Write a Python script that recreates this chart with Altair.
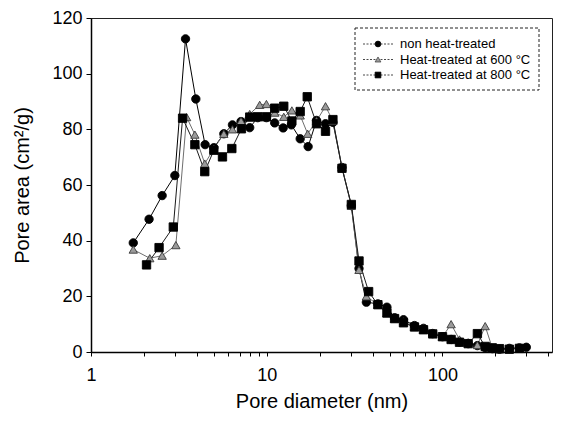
import altair as alt
import pandas as pd

series_names = ["non heat-treated", "Heat-treated at 600 °C", "Heat-treated at 800 °C"]

# non heat-treated (circles)
d_non = [1.74, 2.14, 2.54, 3.0, 3.45, 3.95, 4.46, 5.0, 5.7, 6.38, 7.14, 8.0, 8.89, 9.96,
         11.1, 12.4, 13.8, 15.5, 17.2, 19.2, 21.6, 23.8, 26.8, 30.3, 33.5, 36.9, 42.9,
         48.3, 53.4, 60, 69.3, 78, 88, 100, 112, 125, 140, 158, 175, 192, 211, 240, 274, 300]
a_non = [39.2, 47.7, 56.2, 63.4, 112.5, 90.9, 74.5, 73.4, 78.4, 81.6, 82.8, 80.6, 84.2, 84.2,
         82.3, 80.5, 81.6, 76.6, 73.8, 83.2, 82.0, 82.5, 66.3, 52.6, 30.0, 17.9, 17.3,
         16.1, 12.3, 11.6, 9.5, 8.5, 6.6, 5.5, 4.5, 3.6, 3.0, 2.3, 1.5, 1.2, 1.0, 1.3, 1.5, 1.7]

# heat-treated at 600 C (triangles)
d_600 = [1.74, 2.16, 2.54, 3.04, 3.5, 3.9, 4.44, 5.0, 5.7, 6.38, 7.14, 8.0, 9.12, 9.96,
         11.1, 12.5, 13.9, 15.5, 17.1, 19.2, 21.6, 23.8, 26.8, 30.3, 33.5, 36.9, 42.9,
         48.3, 53.4, 60, 69.3, 78, 88, 100, 112, 125, 140, 158, 175, 192, 211, 240, 274]
a_600 = [36.8, 33.7, 34.6, 38.4, 84.4, 78.1, 67.7, 73.0, 78.4, 80.0, 83.0, 85.5, 88.8, 89.1,
         86.0, 84.5, 86.8, 85.0, 78.4, 83.0, 88.3, 83.0, 66.5, 52.5, 29.5, 20.0, 17.0,
         14.0, 12.0, 11.0, 9.0, 8.0, 7.0, 5.5, 10.0, 4.5, 3.5, 2.5, 9.3, 1.5, 1.0, 1.2, 1.4]

# heat-treated at 800 C (squares)
d_800 = [2.07, 2.44, 2.94, 3.32, 3.9, 4.44, 5.0, 5.6, 6.33, 7.18, 8.0, 8.89, 9.96, 11.1,
         12.5, 13.9, 15.5, 17.0, 19.2, 21.6, 23.8, 26.8, 30.3, 33.5, 38, 42.9, 48.3,
         53.4, 60, 69.3, 78, 88, 100, 112, 125, 140, 158, 175, 192, 211, 240, 274]
a_800 = [31.3, 37.5, 44.9, 84.0, 74.5, 64.8, 72.5, 70.1, 73.1, 80.2, 84.4, 84.5, 84.5, 87.6,
         88.3, 83.0, 86.4, 91.7, 82.0, 79.3, 83.5, 66.0, 53.0, 32.7, 21.7, 17.0, 14.0,
         12.0, 10.5, 9.0, 8.0, 6.5, 5.5, 4.5, 3.5, 3.0, 6.6, 2.0, 1.5, 1.2, 1.0, 1.3]

x_ticks = [1, 2, 3, 4, 5, 6, 7, 8, 9, 10, 20, 30, 40, 50, 60, 70, 80, 90, 100, 200, 300, 400]
y_ticks = [0, 20, 40, 60, 80, 100, 120]

rows = []
for name, xs, ys in zip(series_names, [d_non, d_600, d_800], [a_non, a_600, a_800]):
    for i, (xv, yv) in enumerate(zip(xs, ys)):
        rows.append({"series": name, "diameter": xv, "area": yv, "idx": i})
df = pd.DataFrame(rows)
legend_df = pd.DataFrame({"series": series_names, "row": [0, 1, 2]})

FONT = "Liberation Sans"

shape_scale = alt.Scale(domain=series_names, range=["circle", "triangle-up", "square"])
fill_scale = alt.Scale(domain=series_names, range=["#000000", "#9a9a9a", "#000000"])
stroke_scale = alt.Scale(domain=series_names, range=["#000000", "#3a3a3a", "#000000"])

x_enc = alt.X(
    "diameter:Q",
    scale=alt.Scale(type="log", domain=[1, 420], nice=False),
    axis=alt.Axis(
        values=x_ticks,
        format="~g",
        labelExpr="(datum.value == 1 || datum.value == 10 || datum.value == 100) ? datum.label : ''",
        tickSize=4, labelPadding=10, grid=False, labelFlush=False,
        titlePadding=7,
    ),
    title="Pore diameter (nm)",
)
y_enc = alt.Y(
    "area:Q",
    scale=alt.Scale(domain=[0, 120], nice=False),
    axis=alt.Axis(values=y_ticks, tickSize=5, labelPadding=4, grid=False, titlePadding=19),
    title="Pore area (cm²/g)",
)

lines = alt.Chart(df).mark_line(strokeWidth=1).encode(
    x=x_enc, y=y_enc,
    color=alt.Color("series:N", scale=alt.Scale(domain=series_names, range=["#000000", "#6e6e6e", "#1a1a1a"]), legend=None),
    order="idx:Q",
)

points = alt.Chart(df).mark_point(filled=True, size=70, strokeWidth=0.9, opacity=1).encode(
    x=x_enc, y=y_enc,
    shape=alt.Shape("series:N", scale=shape_scale, legend=None),
    fill=alt.Fill("series:N", scale=fill_scale, legend=None),
    stroke=alt.Stroke("series:N", scale=stroke_scale, legend=None),
)

# hand-built legend (box, dotted line, marker, label per entry)
leg_base = alt.Chart(legend_df).transform_calculate(py="26 + datum.row * 15.5")
leg_y = alt.Y("py:Q", scale=None)

leg_box = alt.Chart(legend_df.head(1)).mark_rect(
    fill="white", stroke="#222222", strokeWidth=1, strokeDash=[3, 2]
).encode(x=alt.value(264), x2=alt.value(448), y=alt.value(10), y2=alt.value(72))

leg_rules = leg_base.mark_rule(strokeWidth=0.9, strokeDash=[2, 1.5], color="#333333").encode(
    x=alt.value(272), x2=alt.value(302), y=leg_y
)
leg_points = leg_base.mark_point(filled=True, size=34, strokeWidth=0.7, opacity=1).encode(
    x=alt.value(287), y=leg_y,
    shape=alt.Shape("series:N", scale=shape_scale, legend=None),
    fill=alt.Fill("series:N", scale=fill_scale, legend=None),
    stroke=alt.Stroke("series:N", scale=stroke_scale, legend=None),
)
leg_text = leg_base.mark_text(
    align="left", baseline="middle", font=FONT, fontSize=13, color="black"
).encode(x=alt.value(309), y=leg_y, text="series:N")

chart = (
    alt.layer(lines, points, leg_box, leg_rules, leg_points, leg_text)
    .properties(
        width=461, height=334,
        autosize=alt.AutoSizeParams(type="none"),
        padding={"left": 83, "top": 10, "right": 1, "bottom": 62},
    )
    .configure_view(stroke="#222222", strokeWidth=1)
    .configure_axis(
        labelFont=FONT, titleFont=FONT, labelFontSize=18, titleFontSize=20,
        titleFontWeight="normal", labelColor="black", titleColor="black",
        domainColor="black", domainWidth=1.5, tickColor="black", tickWidth=1,
    )
)

chart.save("out.html", embed_options={"renderer": "svg", "actions": False})
